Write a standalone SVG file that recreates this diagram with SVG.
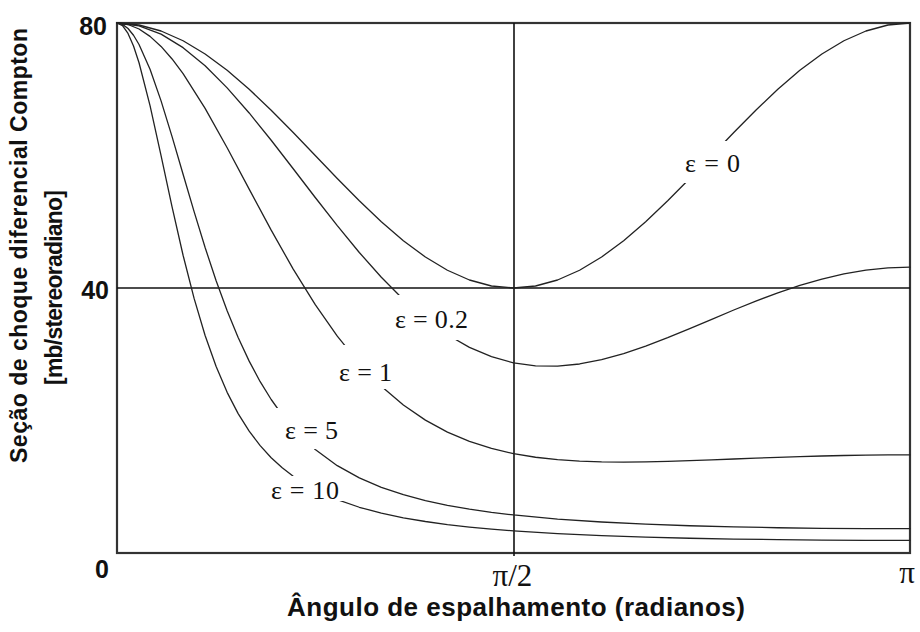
<svg xmlns="http://www.w3.org/2000/svg" width="920" height="632" viewBox="0 0 920 632">
<style>
.frame{fill:none;stroke:#333;stroke-width:2.2}
.grid{fill:none;stroke:#111;stroke-width:1.6}
.curve{fill:none;stroke:#222;stroke-width:1.3;stroke-linejoin:round;stroke-linecap:round}
.tick{font-family:"Liberation Sans",Arial,sans-serif;font-weight:bold;font-size:25px;fill:#111}
.pi{font-family:"Liberation Serif","Times New Roman",serif;font-size:31px;fill:#111}
.eps{font-family:"Liberation Serif","Times New Roman",serif;font-size:26px;fill:#111}
.title{font-family:"Liberation Sans",Arial,sans-serif;font-weight:bold;fill:#111}
</style>
<defs>
<mask id="gaps" maskUnits="userSpaceOnUse" x="0" y="0" width="920" height="632">
<rect x="0" y="0" width="920" height="632" fill="#fff"/>
<rect x="680" y="141" width="68" height="42" fill="#000"/>
<rect x="385" y="295" width="95" height="45" fill="#000"/>
<rect x="330" y="345" width="70" height="44" fill="#000"/>
<rect x="270" y="408" width="75" height="41" fill="#000"/>
<rect x="268" y="476" width="82" height="25" fill="#000"/>
</mask>
</defs>
<rect x="0" y="0" width="920" height="632" fill="#fff"/>
<g id="axes">
<rect class="frame" x="117" y="23" width="793" height="530"/>
<line class="grid" x1="117" y1="288" x2="910" y2="288"/>
<line class="grid" x1="514" y1="23" x2="514" y2="556"/>
</g>
<g id="curves" mask="url(#gaps)">
<polyline id="eps0" class="curve" points="117,23 139.03,25 161.06,31 183.08,40.75 205.11,54 227.14,70.3 249.17,89.25 271.19,110.2 293.22,132.5 315.25,155.5 337.28,178.5 359.31,200.8 381.33,221.75 403.36,240.7 425.39,257 447.42,270.25 469.44,280 491.47,286 513.5,288 535.53,286 557.56,280 579.58,270.25 601.61,257 623.64,240.7 645.67,221.75 667.69,200.8 689.72,178.5 711.75,155.5 733.78,132.5 755.81,110.2 777.83,89.25 799.86,70.3 821.89,54 843.92,40.75 865.94,31 887.97,25 910,23"/>
<polyline id="eps02" class="curve" points="117,23 139.03,25.82 161.06,34.14 183.08,47.65 205.11,65.79 227.14,87.84 249.17,112.96 271.19,140.25 293.22,168.74 315.25,197.51 337.28,225.68 359.31,252.48 381.33,277.25 403.36,299.44 425.39,318.68 447.42,334.7 469.44,347.38 491.47,356.72 513.5,362.84 535.53,365.9 557.56,366.18 579.58,363.98 601.61,359.66 623.64,353.59 645.67,346.14 667.69,337.7 689.72,328.63 711.75,319.3 733.78,310.02 755.81,301.1 777.83,292.82 799.86,285.4 821.89,279.05 843.92,273.94 865.94,270.19 887.97,267.91 910,267.14"/>
<polyline id="eps1" class="curve" points="117,23 128.01,24.51 139.03,29.01 150.04,36.37 161.06,46.44 172.07,58.97 183.08,73.67 205.11,108.35 227.14,147.71 249.17,189.09 271.19,230.17 293.22,269.11 315.25,304.68 337.28,336.17 359.31,363.31 381.33,386.15 403.36,404.96 425.39,420.15 447.42,432.16 469.44,441.45 491.47,448.47 513.5,453.63 535.53,457.26 557.56,459.68 579.58,461.15 601.61,461.88 623.64,462.06 645.67,461.84 667.69,461.33 689.72,460.64 711.75,459.83 733.78,458.98 755.81,458.14 777.83,457.35 799.86,456.63 821.89,456.01 843.92,455.51 865.94,455.15 887.97,454.93 910,454.85"/>
<polyline id="eps5" class="curve" points="117,23 122.51,24.39 128.01,28.5 133.52,35.25 139.03,44.48 150.04,69.31 161.06,100.86 172.07,136.63 183.08,174.22 194.1,211.69 205.11,247.51 216.13,280.71 227.14,310.8 238.15,337.59 249.17,361.15 260.18,381.69 271.19,399.5 282.21,414.89 293.22,428.18 315.25,449.58 337.28,465.66 359.31,477.89 381.33,487.33 403.36,494.72 425.39,500.58 447.42,505.31 469.44,509.16 491.47,512.33 513.5,514.97 557.56,519.05 601.61,521.99 645.67,524.14 689.72,525.73 733.78,526.9 777.83,527.73 821.89,528.28 865.94,528.61 910,528.71"/>
<polyline id="eps10" class="curve" points="117,23 122.51,25.64 128.01,33.42 133.52,45.96 139.03,62.72 150.04,105.56 161.06,155.59 172.07,206.9 183.08,255.25 194.1,298.39 205.11,335.44 216.13,366.54 227.14,392.33 238.15,413.61 249.17,431.15 260.18,445.66 271.19,457.73 282.21,467.83 293.22,476.35 315.25,489.77 337.28,499.71 359.31,507.26 381.33,513.13 403.36,517.77 425.39,521.5 447.42,524.55 469.44,527.05 491.47,529.14 513.5,530.9 557.56,533.65 601.61,535.66 645.67,537.15 689.72,538.26 733.78,539.07 777.83,539.66 821.89,540.05 865.94,540.28 910,540.35"/>
</g>
<g id="curve-labels">
<text class="eps" x="685" y="172" textLength="55">ε = 0</text>
<text class="eps" x="395" y="328" textLength="73">ε = 0.2</text>
<text class="eps" x="339" y="381" textLength="53">ε = 1</text>
<text class="eps" x="285" y="439" textLength="53">ε = 5</text>
<text class="eps" x="271" y="499" textLength="68">ε = 10</text>
</g>
<g id="tick-labels">
<text class="tick" x="107" y="35" text-anchor="end">80</text>
<text class="tick" x="109" y="299" text-anchor="end">40</text>
<text class="tick" x="102" y="578" text-anchor="middle">0</text>
<text class="pi" x="512.5" y="586" text-anchor="middle">π/2</text>
<text class="pi" x="907" y="583" text-anchor="middle">π</text>
</g>
<g id="axis-titles">
<text class="title" font-size="23" text-anchor="middle" transform="translate(27,245.5) rotate(-90)" textLength="435">Seção de choque diferencial Compton</text>
<text class="title" font-size="23" text-anchor="middle" transform="translate(62,287.5) rotate(-90)" textLength="195">[mb/stereoradiano]</text>
<text class="title" font-size="26" x="516" y="616" text-anchor="middle" textLength="458">Ângulo de espalhamento (radianos)</text>
</g>
</svg>
